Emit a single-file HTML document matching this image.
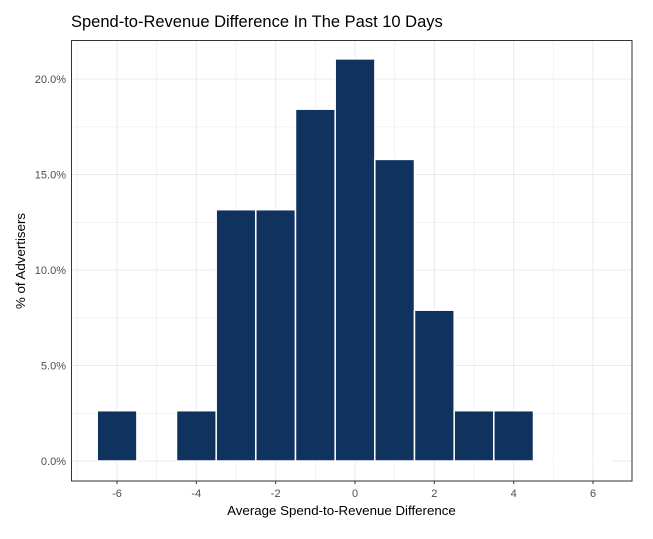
<!DOCTYPE html>
<html><head><meta charset="utf-8"><style>body{margin:0;background:#fff}svg{display:block}</style></head><body>
<svg width="653" height="539" xmlns="http://www.w3.org/2000/svg" font-family="Liberation Sans, sans-serif">
<rect width="653" height="539" fill="#fff"/>
<g stroke="#ebebeb" stroke-width="0.6">
<line x1="71" x2="632" y1="413.3" y2="413.3"/><line x1="71" x2="632" y1="317.8" y2="317.8"/><line x1="71" x2="632" y1="222.3" y2="222.3"/><line x1="71" x2="632" y1="126.8" y2="126.8"/>
<line y1="40" y2="481" x1="77" x2="77"/><line y1="40" y2="481" x1="156.7" x2="156.7"/><line y1="40" y2="481" x1="236" x2="236"/><line y1="40" y2="481" x1="315.3" x2="315.3"/><line y1="40" y2="481" x1="394.7" x2="394.7"/><line y1="40" y2="481" x1="474" x2="474"/><line y1="40" y2="481" x1="553.3" x2="553.3"/>
</g>
<g stroke="#ebebeb" stroke-width="1.1">
<line x1="71" x2="632" y1="461" y2="461"/><line x1="71" x2="632" y1="365.5" y2="365.5"/><line x1="71" x2="632" y1="270" y2="270"/><line x1="71" x2="632" y1="174.5" y2="174.5"/><line x1="71" x2="632" y1="79" y2="79"/>
<line y1="40" y2="481" x1="117" x2="117"/><line y1="40" y2="481" x1="196.3" x2="196.3"/><line y1="40" y2="481" x1="275.7" x2="275.7"/><line y1="40" y2="481" x1="355" x2="355"/><line y1="40" y2="481" x1="434.3" x2="434.3"/><line y1="40" y2="481" x1="513.7" x2="513.7"/><line y1="40" y2="481" x1="593" x2="593"/>
</g>
<g fill="#10325f" stroke="#fff" stroke-width="1.5">
<rect x="97.2" y="410.7" width="39.7" height="50.3"/>
<rect x="176.5" y="410.7" width="39.7" height="50.3"/>
<rect x="216.2" y="209.7" width="39.7" height="251.3"/>
<rect x="255.8" y="209.7" width="39.7" height="251.3"/>
<rect x="295.5" y="109.2" width="39.7" height="351.8"/>
<rect x="335.2" y="58.9" width="39.7" height="402.1"/>
<rect x="374.8" y="159.4" width="39.7" height="301.6"/>
<rect x="414.5" y="310.2" width="39.7" height="150.8"/>
<rect x="454.2" y="410.7" width="39.7" height="50.3"/>
<rect x="493.8" y="410.7" width="39.7" height="50.3"/>
</g>
<line x1="533.5" x2="612.8" y1="461" y2="461" stroke="#fff" stroke-width="1"/>
<rect x="71.5" y="40.5" width="560.5" height="440.5" fill="none" stroke="#333" stroke-width="1"/>
<g font-size="11" fill="#4d4d4d" text-anchor="end">
<text x="66" y="465">0.0%</text><text x="66" y="369.5">5.0%</text><text x="66" y="274">10.0%</text><text x="66" y="178.5">15.0%</text><text x="66" y="83">20.0%</text>
</g>
<g stroke="#333" stroke-width="1"><line x1="117" x2="117" y1="481" y2="484"/><line x1="196.3" x2="196.3" y1="481" y2="484"/><line x1="275.7" x2="275.7" y1="481" y2="484"/><line x1="355" x2="355" y1="481" y2="484"/><line x1="434.3" x2="434.3" y1="481" y2="484"/><line x1="513.7" x2="513.7" y1="481" y2="484"/><line x1="593" x2="593" y1="481" y2="484"/></g>
<g font-size="11" fill="#4d4d4d" text-anchor="middle">
<text x="117" y="497">-6</text><text x="196.3" y="497">-4</text><text x="275.7" y="497">-2</text><text x="355" y="497">0</text><text x="434.3" y="497">2</text><text x="513.7" y="497">4</text><text x="593" y="497">6</text>
</g>
<text x="341.5" y="515" font-size="13.3" text-anchor="middle" fill="#000">Average Spend-to-Revenue Difference</text>
<text transform="translate(25,261) rotate(-90)" font-size="13.3" text-anchor="middle" fill="#000">% of Advertisers</text>
<text x="71" y="27" font-size="16.5" fill="#000">Spend-to-Revenue Difference In The Past 10 Days</text>
</svg>
</body></html>
